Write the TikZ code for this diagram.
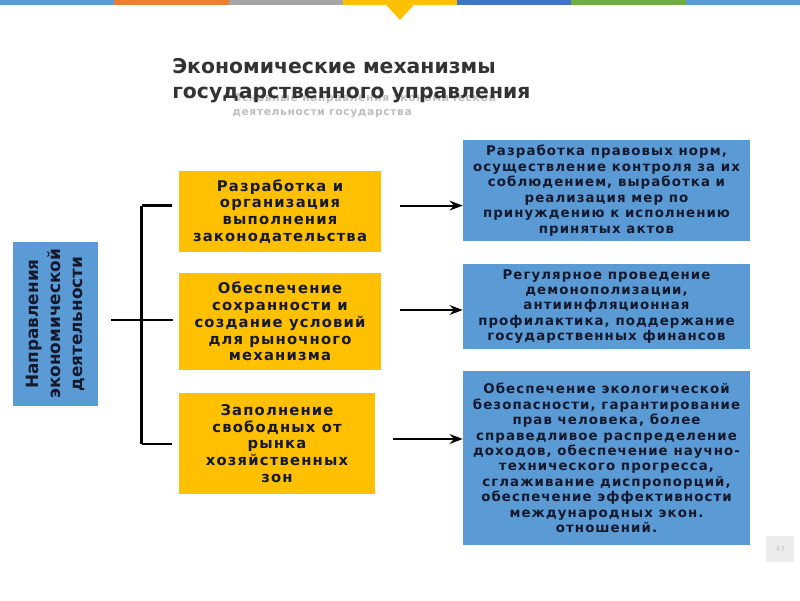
\documentclass[tikz,border=0pt]{standalone}
\usepackage{fontspec}
\setmainfont{DejaVu Sans}
\newfontfamily\widefont[LetterSpace=8]{DejaVu Sans}
\newfontfamily\subfont[LetterSpace=6]{DejaVu Sans}
\usetikzlibrary{arrows.meta,positioning}
\definecolor{barblue}{RGB}{91,155,213}
\definecolor{barorange}{RGB}{237,125,49}
\definecolor{bargray}{RGB}{165,165,165}
\definecolor{baryellow}{RGB}{255,192,0}
\definecolor{bardblue}{RGB}{68,114,196}
\definecolor{bargreen}{RGB}{112,173,71}
\definecolor{boxblue}{RGB}{91,155,213}
\definecolor{boxyellow}{RGB}{255,192,0}
\definecolor{titlegray}{RGB}{51,51,51}
\definecolor{subgray}{RGB}{190,190,190}
\definecolor{textnavy}{RGB}{20,25,45}

\begin{document}
\begin{tikzpicture}[>=Stealth,
  ybox/.style={fill=boxyellow,text=textnavy,align=center,inner sep=0pt,
    font=\widefont\bfseries\fontsize{10.5}{12}\selectfont},
  bbox/.style={fill=boxblue,text=textnavy,align=center,inner sep=0pt,
    font=\widefont\bfseries\fontsize{9.5}{11}\selectfont},
  link/.style={line width=1.7pt},
  arr/.style={->,line width=1.4pt}]
\useasboundingbox (0,0) rectangle (20,-15);
% colour strip on top
\foreach \c [count=\i from 0] in {barblue,barorange,bargray,baryellow,bardblue,bargreen,barblue}
  \fill[\c] (\i*2.857,0) rectangle (\i*2.857+2.858,-0.125);
\fill[baryellow] (9.65,-0.12) -- (10.35,-0.12) -- (10,-0.5) -- cycle;
% headings
\node[anchor=west,text=subgray,align=left,inner sep=0pt,
  font=\subfont\bfseries\fontsize{7.6}{10.5}\selectfont] (sub) at (5.8,-2.64)
  {Основные направления экономической\\деятельности государства};
\node[anchor=west,text=titlegray,align=left,inner sep=0pt,
  font=\bfseries\fontsize{14.5}{17.7}\selectfont] (title) at (4.3,-2.01)
  {Экономические механизмы\\государственного управления};
% left box
\node[fill=boxblue,minimum width=2.125cm,minimum height=4.1cm,inner sep=0pt] (dir) at (1.3875,-8.1) {};
\node[rotate=90,align=center,text=textnavy,font=\bfseries\fontsize{12}{15.8}\selectfont] (dirtext) at (dir.center)
  {Направления\\экономической\\деятельности};
% mechanisms
\node[ybox,minimum width=5.05cm,minimum height=2.025cm] (law) at (7.0,-5.2875)
  {Разработка и\\организация\\выполнения\\законодательства};
\node[ybox,minimum width=5.05cm,minimum height=2.425cm] (market) at (7.0,-8.0375)
  {Обеспечение\\сохранности и\\создание условий\\для рыночного\\механизма};
\node[ybox,minimum width=4.9cm,minimum height=2.525cm] (zones) at (6.925,-11.0875)
  {Заполнение\\свободных от\\рынка\\хозяйственных\\зон};
% goals
\node[bbox,minimum width=7.175cm,minimum height=2.525cm] (goal1) at (15.1625,-4.7625)
  {Разработка правовых норм,\\осуществление контроля за их\\соблюдением, выработка и\\реализация мер по\\принуждению к исполнению\\принятых актов};
\node[bbox,minimum width=7.175cm,minimum height=2.125cm] (goal2) at (15.1625,-7.6625)
  {Регулярное проведение\\демонополизации,\\антиинфляционная\\профилактика, поддержание\\государственных финансов};
\node[bbox,minimum width=7.175cm,minimum height=4.35cm] (goal3) at (15.1625,-11.45)
  {Обеспечение экологической\\безопасности, гарантирование\\прав человека, более\\справедливое распределение\\доходов, обеспечение научно-\\технического прогресса,\\сглаживание диспропорций,\\обеспечение эффективности\\международных экон.\\отношений.};
% bracket
\coordinate (from) at (2.775,-8.0);
\coordinate (mid) at (4.325,-8.0);
\coordinate (top) at (3.54,-5.14);
\coordinate (bot) at (3.54,-11.1);
\draw[link] (from) -- (mid);
\draw[link] (top) -- (bot);
\draw[link] (top) -- ++(0.76,0);
\draw[link] (bot) -- ++(0.76,0);
% arrows
\coordinate (s1) at (10.0,-5.14);
\coordinate (s2) at (10.0,-7.75);
\coordinate (s3) at (9.83,-10.975);
\draw[arr] (s1) -- (s1 -| goal1.west);
\draw[arr] (s2) -- (s2 -| goal2.west);
\draw[arr] (s3) -- (s3 -| goal3.west);
% page number
\node[fill=gray!15,minimum width=0.7cm,minimum height=0.65cm,inner sep=0pt,
  text=gray!45,font=\fontsize{5}{6}\selectfont] (page) at (19.5,-13.725) {43};
\end{tikzpicture}
\end{document}
